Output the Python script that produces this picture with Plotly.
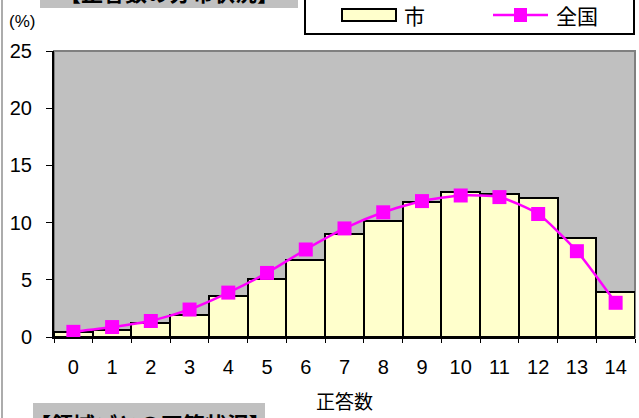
import plotly.graph_objects as go

categories = [str(i) for i in range(15)]
city = [0.42, 0.64, 1.2, 1.9, 3.6, 5.06, 6.77, 8.98, 10.16, 11.84, 12.67, 12.5, 12.17, 8.63, 3.96]
national = [0.45, 0.87, 1.4, 2.4, 3.88, 5.6, 7.65, 9.49, 10.9, 11.88, 12.37, 12.23, 10.75, 7.5, 2.99]
y_ticks = [0, 5, 10, 15, 20, 25]

W, H = 639, 418
L, R, T, B = 54, 4, 51, 81
pw, ph = W - L - R, H - T - B


def px(x):
    return (x - L) / pw


def py(y):
    return (H - B - y) / ph


num_font = dict(family="Liberation Sans Narrow, Liberation Sans, Arial", size=20, color="black")
jp_font = dict(family="Noto Sans CJK JP", size=19, color="black")

fig = go.Figure()
fig.add_trace(go.Bar(x=categories, y=city, name="市",
                     marker=dict(color="#FFFFCC", line=dict(color="black", width=2)),
                     showlegend=False))
fig.add_trace(go.Scatter(x=categories, y=national, name="全国", mode="lines+markers",
                         line=dict(color="#FF00FF", width=2.5, shape="spline", smoothing=0.6),
                         marker=dict(symbol="square", size=14, color="#FF00FF"),
                         showlegend=False))

fig.update_layout(
    width=W, height=H,
    margin=dict(l=L, r=R, t=T, b=B, autoexpand=False),
    paper_bgcolor="white", plot_bgcolor="#C0C0C0",
    bargap=0,
    xaxis=dict(type="category", range=[-0.5, 14.5], automargin=False, showgrid=False,
               showline=True, linecolor="black", linewidth=2,
               ticks="outside", tickson="boundaries", ticklen=4, tickcolor="black",
               tickfont=num_font, ticklabelstandoff=11, mirror=False,
               title=dict(text="正答数", font=jp_font, standoff=19)),
    yaxis=dict(range=[0, 25], tickvals=y_ticks, automargin=False, showgrid=False, showline=True,
               linecolor="black", linewidth=2, ticks="outside", ticklen=6, tickcolor="black",
               tickfont=num_font, ticklabelstandoff=10, zeroline=False),
)

shapes = []
annotations = []
# plot-area border (gray top/right)
shapes.append(dict(type="rect", xref="paper", yref="paper", x0=0, x1=1, y0=0, y1=1,
                   line=dict(color="#808080", width=2), layer="below"))
# chart outer left frame line
shapes.append(dict(type="line", xref="paper", yref="paper", x0=px(2), x1=px(2), y0=py(-5), y1=py(425),
                   line=dict(color="#909090", width=1.5)))
# top title box (cut off)
shapes.append(dict(type="rect", xref="paper", yref="paper", x0=px(40), x1=px(298), y0=py(-30), y1=py(8),
                   fillcolor="#C0C0C0", line=dict(width=0)))
annotations.append(dict(xref="paper", yref="paper", x=px(169), y=py(-9), text="<b>【正答数の分布状況】</b>",
                        showarrow=False, font=dict(family="Noto Sans CJK JP", size=22, color="black"),
                        xanchor="center", yanchor="middle"))
# bottom box (cut off)
shapes.append(dict(type="rect", xref="paper", yref="paper", x0=px(33), x1=px(265), y0=py(403), y1=py(440),
                   fillcolor="#C0C0C0", line=dict(width=0)))
annotations.append(dict(xref="paper", yref="paper", x=px(150), y=py(405), text="<b>【領域ごとの正答状況】</b>",
                        showarrow=False, font=dict(family="Noto Sans CJK JP", size=22, color="black"),
                        xanchor="center", yanchor="top"))
# (%) label
annotations.append(dict(xref="paper", yref="paper", x=px(22), y=py(22), text="(%)", showarrow=False,
                        font=dict(family="Liberation Sans Narrow, Liberation Sans", size=17, color="black"),
                        xanchor="center", yanchor="middle"))
# legend box
shapes.append(dict(type="rect", xref="paper", yref="paper", x0=px(305), x1=px(634), y0=py(34), y1=py(-10),
                   fillcolor="white", line=dict(color="black", width=2)))
shapes.append(dict(type="rect", xref="paper", yref="paper", x0=px(342), x1=px(396), y0=py(21), y1=py(9),
                   fillcolor="#FFFFCC", line=dict(color="black", width=2)))
annotations.append(dict(xref="paper", yref="paper", x=px(402), y=py(15), text="市", showarrow=False,
                        font=dict(family="Noto Sans CJK JP", size=21, color="black"),
                        xanchor="left", yanchor="middle"))
shapes.append(dict(type="line", xref="paper", yref="paper", x0=px(493), x1=px(548), y0=py(15), y1=py(15),
                   line=dict(color="#FF00FF", width=2.5)))
shapes.append(dict(type="rect", xref="paper", yref="paper", x0=px(514), x1=px(527), y0=py(22), y1=py(8),
                   fillcolor="#FF00FF", line=dict(width=0)))
annotations.append(dict(xref="paper", yref="paper", x=px(554), y=py(15), text="全国", showarrow=False,
                        font=dict(family="Noto Sans CJK JP", size=21, color="black"),
                        xanchor="left", yanchor="middle"))

fig.update_layout(shapes=shapes, annotations=annotations)
fig.write_html("out.html", config={"displayModeBar": False},
               post_script="document.body.style.margin='0';document.body.style.overflow='hidden';")
